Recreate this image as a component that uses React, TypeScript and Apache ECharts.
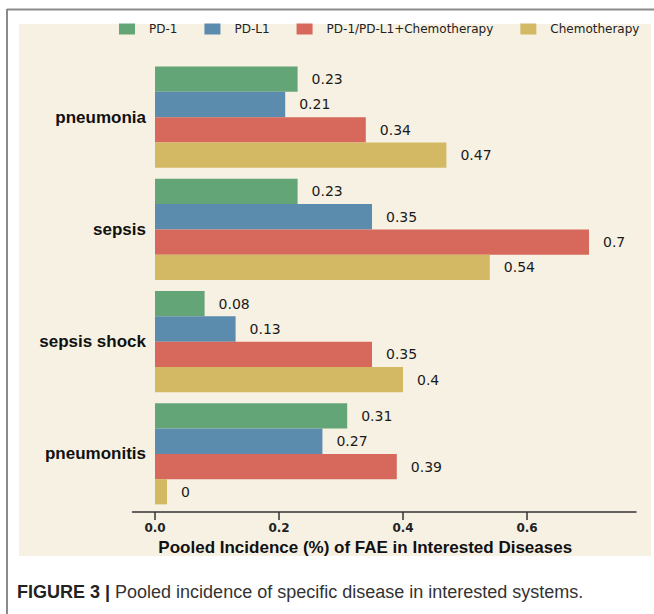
import React, { useEffect, useRef } from "react";
import * as echarts from "echarts";

const categories = ["pneumonia", "sepsis", "sepsis shock", "pneumonitis"];
const seriesNames = ["PD-1", "PD-L1", "PD-1/PD-L1+Chemotherapy", "Chemotherapy"];
const pd1 = [0.23, 0.23, 0.08, 0.31];
const pdl1 = [0.21, 0.35, 0.13, 0.27];
const combo = [0.34, 0.7, 0.35, 0.39];
const chemo = [0.47, 0.54, 0.4, 0];
const tickValues = [0, 0.2, 0.4, 0.6];
const colors = ["#64a577", "#5b8bad", "#d6685c", "#d4b965"];

const axisName = "Pooled Incidence (%) of FAE in Interested Diseases";
const captionBold = "FIGURE 3 |";
const captionText = " Pooled incidence of specific disease in interested systems.";

export default function App() {
  const ref = useRef<HTMLDivElement>(null);
  useEffect(() => {
    if (!ref.current) return;
    const chart = echarts.init(ref.current, null, { renderer: "svg" });
    const values = [pd1, pdl1, combo, chemo];
    const sans = "'Liberation Sans', Arial, sans-serif";
    const dejavu = "'DejaVu Sans', sans-serif";
    chart.setOption({
      animation: false,
      backgroundColor: "#ffffff",
      graphic: [
        {
          type: "rect",
          z: -10,
          silent: true,
          shape: { x: 19, y: 24, width: 632, height: 532 },
          style: { fill: "#f7f1e3" },
        },
        {
          type: "line",
          silent: true,
          shape: { x1: 7, y1: 9.5, x2: 654, y2: 9.5 },
          style: { stroke: "#8a8a8a", lineWidth: 2 },
        },
        {
          type: "line",
          silent: true,
          shape: { x1: 7, y1: 9, x2: 7, y2: 614 },
          style: { stroke: "#8a8a8a", lineWidth: 2 },
        },
        {
          type: "text",
          silent: true,
          x: 17,
          y: 592,
          style: {
            text: "{b|" + captionBold + "}{r|" + captionText + "}",
            verticalAlign: "middle",
            rich: {
              b: { fontFamily: sans, fontSize: 18, fontWeight: "bold", fill: "#222" },
              r: { fontFamily: sans, fontSize: 18, fill: "#333" },
            },
          },
        },
      ],
      legend: {
        top: 23,
        left: 119,
        padding: 0,
        icon: "rect",
        itemWidth: 16,
        itemHeight: 11,
        itemGap: 27,
        data: seriesNames,
        textStyle: {
          fontFamily: dejavu,
          fontSize: 12,
          color: "#222",
          padding: [0, 0, 0, 9],
        },
      },
      grid: { left: 132.5, right: 18, top: 61, bottom: 104 },
      xAxis: {
        type: "value",
        min: -0.0363,
        max: 0.7758,
        offset: 2,
        splitLine: { show: false },
        axisLine: { show: true, lineStyle: { color: "#333", width: 1.5 } },
        axisTick: {
          show: true,
          length: 8,
          customValues: tickValues,
          lineStyle: { color: "#333", width: 1.5 },
        },
        axisLabel: {
          customValues: tickValues,
          margin: 10,
          fontFamily: dejavu,
          fontSize: 12,
          fontWeight: "bold",
          color: "#222",
          formatter: (v: number) => v.toFixed(1),
        },
        name: axisName,
        nameLocation: "middle",
        nameGap: 25,
        nameTextStyle: {
          fontFamily: sans,
          fontSize: 17,
          fontWeight: "bold",
          color: "#111",
          padding: [0, 38, 0, 0],
        },
      },
      yAxis: {
        type: "category",
        inverse: true,
        data: categories,
        axisLine: { show: false },
        axisTick: { show: false },
        splitLine: { show: false },
        axisLabel: {
          margin: -13.5,
          fontFamily: sans,
          fontSize: 17,
          fontWeight: "bold",
          color: "#111",
        },
      },
      series: seriesNames.map((name, i) => ({
        name,
        type: "bar",
        data: values[i],
        barGap: "0%",
        barCategoryGap: "10%",
        barMinHeight: i === 3 ? 12 : 0,
        itemStyle: { color: colors[i] },
        label: {
          show: true,
          position: "right",
          distance: 14,
          fontFamily: dejavu,
          fontSize: 14,
          color: "#1a1a1a",
          formatter: (p: any) => String(p.value),
        },
      })),
    });
    return () => chart.dispose();
  }, []);
  return (
    <div
      ref={ref}
      style={{ position: "fixed", left: 0, top: 0, width: 654, height: 614 }}
    />
  );
}
